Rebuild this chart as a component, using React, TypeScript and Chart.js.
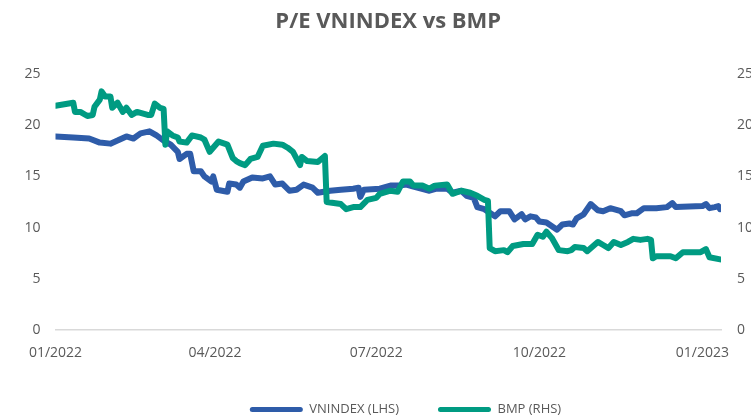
import React, { useEffect, useRef } from "react";
import { Chart, registerables } from "chart.js";

Chart.register(...registerables);

const chartTitle = "P/E VNINDEX vs BMP";
const tickDays = [0, 90, 181, 273, 365];
const tickLabels = ["01/2022", "04/2022", "07/2022", "10/2022", "01/2023"];
const yTicks = [0, 5, 10, 15, 20, 25];

const vnLabel = "VNINDEX (LHS)";
const vnDays = [0, 10, 19, 25, 31, 35, 40, 44, 48, 53, 57, 61, 65, 69, 70, 74, 76, 78, 82, 84, 88, 89, 91, 97, 98, 102, 104, 106, 111, 117, 121, 124, 128, 132, 136, 140, 145, 148, 155, 161, 168, 171, 172, 174, 183, 189, 194, 198, 202, 211, 215, 221, 224, 229, 232, 236, 238, 242, 248, 251, 256, 259, 263, 265, 268, 271, 273, 277, 283, 286, 290, 292, 294, 298, 302, 306, 309, 313, 319, 321, 325, 328, 332, 339, 345, 348, 350, 365, 367, 369, 372, 374, 375];
const vnPE = [18.9, 18.8, 18.7, 18.3, 18.2, 18.5, 18.9, 18.7, 19.2, 19.4, 19.0, 18.5, 18.1, 17.4, 16.7, 17.2, 17.2, 15.5, 15.5, 15.0, 14.5, 15.0, 13.7, 13.5, 14.3, 14.2, 13.9, 14.5, 14.9, 14.8, 15.0, 14.2, 14.3, 13.6, 13.7, 14.2, 13.9, 13.4, 13.6, 13.7, 13.8, 13.9, 13.0, 13.7, 13.8, 14.1, 14.1, 14.2, 14.0, 13.6, 13.8, 13.8, 13.4, 13.6, 13.1, 12.9, 12.0, 11.8, 11.1, 11.6, 11.6, 10.8, 11.3, 10.8, 11.1, 11.0, 10.6, 10.5, 9.8, 10.3, 10.4, 10.3, 10.9, 11.3, 12.3, 11.7, 11.6, 11.9, 11.6, 11.2, 11.4, 11.4, 11.9, 11.9, 12.0, 12.4, 12.0, 12.1, 12.3, 11.9, 12.0, 12.1, 11.8];

const bmpLabel = "BMP (RHS)";
const bmpDays = [0, 10, 11, 14, 18, 21, 22, 25, 26, 28, 31, 32, 35, 38, 40, 43, 46, 52, 54, 56, 59, 61, 62, 63, 66, 69, 70, 74, 77, 82, 84, 87, 92, 97, 100, 102, 104, 107, 110, 114, 117, 123, 128, 131, 134, 138, 139, 142, 148, 152, 153, 157, 161, 164, 168, 172, 176, 181, 183, 189, 193, 196, 200, 202, 207, 211, 214, 221, 224, 229, 234, 238, 242, 244, 245, 248, 253, 255, 258, 264, 269, 272, 275, 277, 280, 284, 289, 291, 293, 298, 300, 306, 309, 312, 315, 319, 323, 326, 330, 334, 336, 337, 339, 347, 350, 354, 364, 367, 369, 375];
const bmpPE = [21.9, 22.2, 21.3, 21.3, 20.9, 21.0, 21.8, 22.5, 23.3, 22.8, 22.8, 21.7, 22.2, 21.3, 21.7, 21.0, 21.3, 21.0, 21.0, 22.1, 21.7, 21.6, 18.1, 19.4, 19.0, 18.8, 18.4, 18.3, 19.0, 18.8, 18.6, 17.4, 18.4, 18.1, 16.8, 16.5, 16.3, 16.1, 16.7, 16.9, 18.0, 18.2, 18.1, 17.8, 17.4, 16.1, 16.9, 16.5, 16.4, 17.0, 12.5, 12.4, 12.3, 11.8, 12.0, 12.0, 12.7, 12.9, 13.3, 13.6, 13.5, 14.5, 14.5, 14.1, 14.1, 13.8, 14.1, 14.2, 13.3, 13.6, 13.4, 13.1, 12.7, 12.6, 8.0, 7.7, 7.8, 7.6, 8.2, 8.4, 8.4, 9.3, 9.1, 9.6, 9.0, 7.8, 7.7, 7.8, 8.1, 8.0, 7.7, 8.6, 8.3, 8.0, 8.6, 8.3, 8.6, 8.9, 8.8, 8.9, 8.8, 7.0, 7.2, 7.2, 7.0, 7.6, 7.6, 7.9, 7.1, 6.9];

const BLUE = "#2E5CA9";
const GREEN = "#009B82";
const GREY = "#595959";
const FONT = "'Open Sans', sans-serif";

export default function App() {
  const ref = useRef<HTMLCanvasElement | null>(null);

  useEffect(() => {
    if (!ref.current) return;
    const chart = new Chart(ref.current, {
      type: "line",
      data: {
        datasets: [
          {
            label: vnLabel,
            data: vnDays.map((d, i) => ({ x: d, y: vnPE[i] })),
            borderColor: BLUE,
            backgroundColor: BLUE,
            borderWidth: 6,
            pointRadius: 0,
            tension: 0,
            borderJoinStyle: "round",
            borderCapStyle: "round",
            yAxisID: "y",
            order: 2,
          },
          {
            label: bmpLabel,
            data: bmpDays.map((d, i) => ({ x: d, y: bmpPE[i] })),
            borderColor: GREEN,
            backgroundColor: GREEN,
            borderWidth: 6,
            pointRadius: 0,
            tension: 0,
            borderJoinStyle: "round",
            borderCapStyle: "round",
            yAxisID: "y1",
            order: 1,
          },
        ],
      },
      options: {
        responsive: false,
        animation: false,
        layout: { padding: { left: 15, right: -45, top: 0, bottom: 0 } },
        plugins: {
          title: {
            display: true,
            text: chartTitle,
            color: GREY,
            fullSize: false,
            font: { family: FONT, size: 22, weight: "bold" },
            padding: { top: 8.8, bottom: 38.8 },
          },
          legend: {
            position: "bottom",
            maxHeight: 54,
            labels: {
              color: GREY,
              font: { family: FONT, size: 13 },
              boxWidth: 53,
              boxHeight: 5,
              padding: 39,
              useBorderRadius: true,
              borderRadius: 2.5,
              sort: (a: any, b: any) => a.datasetIndex - b.datasetIndex,
              generateLabels: (c: any) =>
                Chart.defaults.plugins.legend.labels
                  .generateLabels(c)
                  .map((it: any) => ({ ...it, lineWidth: 0 })),
            },
          },
          tooltip: { enabled: false },
        },
        scales: {
          x: {
            type: "linear",
            min: 0,
            max: 375.5,
            grid: { display: false, drawTicks: false },
            border: { display: true, color: "#D9D9D9", width: 1.5 },
            afterBuildTicks: (s: any) => {
              s.ticks = tickDays.map((v) => ({ value: v }));
            },
            afterFit: (s: any) => {
              s.height = 34;
            },
            ticks: {
              autoSkip: false,
              maxRotation: 0,
              padding: 15,
              color: GREY,
              font: { family: FONT, size: 14 },
              callback: (_v: any, i: number) => tickLabels[i],
            },
          },
          y: {
            position: "left",
            min: 0,
            max: 25,
            grid: { display: false, drawTicks: false },
            border: { display: false },
            afterBuildTicks: (s: any) => {
              s.ticks = yTicks.map((v) => ({ value: v }));
            },
            afterFit: (s: any) => {
              s.width = 40.5;
            },
            ticks: {
              padding: 15,
              color: GREY,
              font: { family: FONT, size: 14 },
            },
          },
          y1: {
            position: "right",
            min: 0,
            max: 25,
            grid: { display: false, drawTicks: false },
            border: { display: false },
            afterBuildTicks: (s: any) => {
              s.ticks = yTicks.map((v) => ({ value: v }));
            },
            afterFit: (s: any) => {
              s.width = 75;
            },
            ticks: {
              padding: 16,
              color: GREY,
              font: { family: FONT, size: 14 },
            },
          },
        },
      },
    } as any);
    return () => chart.destroy();
  }, []);

  return (
    <div style={{ position: "fixed", left: 0, top: 0, width: 751, height: 418, background: "#fff" }}>
      <canvas ref={ref} width={751} height={418} style={{ display: "block" }} />
    </div>
  );
}
